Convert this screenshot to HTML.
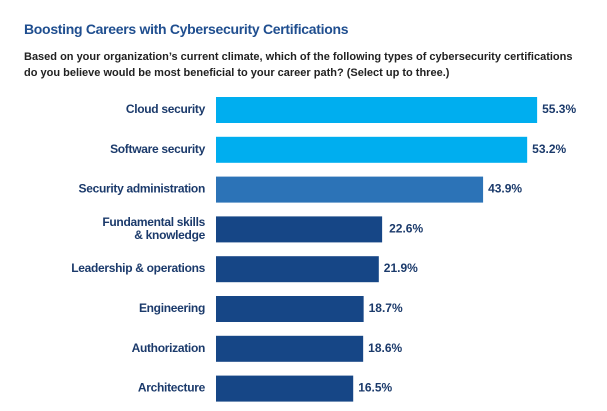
<!DOCTYPE html>
<html><head><meta charset="utf-8"><style>
body{margin:0;width:607px;height:411px;background:#fff;font-family:"Liberation Sans",sans-serif;overflow:hidden;position:relative}
.t{position:absolute;left:24px;top:21px;font-size:14px;font-weight:bold;color:#1f4e8f;letter-spacing:-0.3px}
.s{position:absolute;left:24px;top:49px;font-size:11px;font-weight:bold;color:#222;line-height:16px;letter-spacing:0px}
</style></head><body>
<div class="t">Boosting Careers with Cybersecurity Certifications</div>
<div class="s">Based on your organization’s current climate, which of the following types of cybersecurity certifications<br>do you believe would be most beneficial to your career path? (Select up to three.)</div>
<svg id="c" width="607" height="411" style="position:absolute;left:0;top:0"></svg>
<script>
const categories=["Cloud security","Software security","Security administration","Fundamental skills\n& knowledge","Leadership & operations","Engineering","Authorization","Architecture"];
const values=[55.3,53.2,43.9,22.6,21.9,18.7,18.6,16.5];
const valueLabels=["55.3%","53.2%","43.9%","22.6%","21.9%","18.7%","18.6%","16.5%"];
const colors=["#00aeef","#00aeef","#2c73b7","#164686","#164686","#164686","#164686","#164686"];
const svg=document.getElementById('c');const NS="http://www.w3.org/2000/svg";
const x0=216;
function xw(v){return 59+4.74*v;}
function yb(i){return 97+i*39.8;}
const bh=26;
categories.forEach((c,i)=>{
  const y=yb(i),w=xw(values[i]);
  const r=document.createElementNS(NS,'rect');
  r.setAttribute('x',x0);r.setAttribute('y',y);r.setAttribute('width',w);r.setAttribute('height',bh);r.setAttribute('fill',colors[i]);
  
  
  svg.appendChild(r);
  const lines=c.split('\n');
  lines.forEach((ln,j)=>{
    const t=document.createElementNS(NS,'text');
    t.setAttribute('x',205);
    t.setAttribute('y',y+bh/2+3+(lines.length>1?(j-0.5)*13:0));
    t.setAttribute('text-anchor','end');t.setAttribute('font-size','12');t.setAttribute('font-weight','bold');t.setAttribute('fill','#1b3a6b');t.setAttribute('letter-spacing','-0.3');
    t.textContent=ln;
    
    
    svg.appendChild(t);
  });
  const v=document.createElementNS(NS,'text');
  v.setAttribute('x',x0+w+(i==3?7:5));v.setAttribute('y',y+bh/2+3);
  v.setAttribute('font-size','12');v.setAttribute('font-weight','bold');v.setAttribute('fill','#1b3a6b');
  v.textContent=valueLabels[i];
  
  
  svg.appendChild(v);
});
</script>
</body></html>
